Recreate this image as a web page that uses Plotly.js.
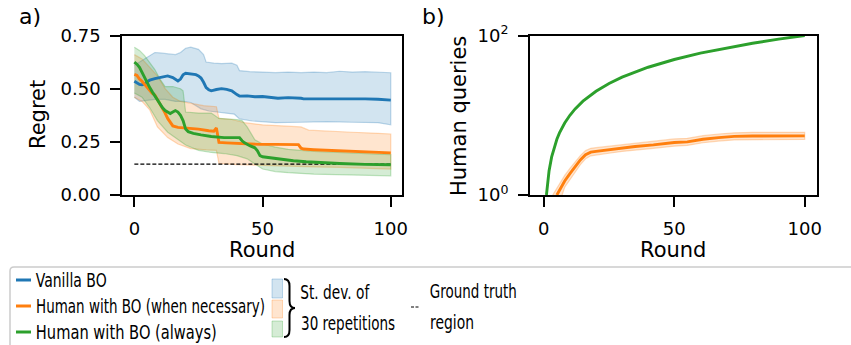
<!DOCTYPE html>
<html>
<head>
<meta charset="utf-8">
<script src="https://cdn.plot.ly/plotly-3.0.1.min.js"></script>
<style>html,body{margin:0;padding:0;background:#fff;}#chart{width:851px;height:345px;}</style>
</head>
<body>
<div id="chart"></div>
<script>
// ---------- Panel a) Regret ----------
const blueX = [0,1,2,3,4,5,6,8,10,12,13,15,16,17,18,19,20,22,24,25,26,27,28,29,30,32,34,36,38,40,41,44,47,50,53,56,60,64,65,66,70,75,80,85,90,95,100];
const blueMean = [0.535,0.528,0.52,0.518,0.522,0.533,0.54,0.547,0.552,0.558,0.56,0.552,0.542,0.536,0.545,0.565,0.572,0.57,0.566,0.56,0.55,0.53,0.505,0.495,0.49,0.496,0.5,0.497,0.49,0.472,0.465,0.466,0.462,0.463,0.458,0.455,0.458,0.458,0.455,0.452,0.452,0.453,0.454,0.452,0.452,0.45,0.446];
const blueUpX = [0,2,4,6,8,10,13,16,18,20,22,25,27,28,31,34,38,40,41,45,50,55,60,65,70,75,80,85,90,95,100];
const blueUp = [0.61,0.625,0.64,0.655,0.67,0.668,0.665,0.66,0.67,0.69,0.695,0.685,0.66,0.625,0.62,0.618,0.62,0.61,0.585,0.58,0.578,0.575,0.578,0.575,0.578,0.575,0.582,0.578,0.58,0.578,0.575];
const blueLoX = [0,2,5,8,12,16,19,22,26,29,34,39,41,46,55,65,75,85,95,100];
const blueLo = [0.46,0.44,0.445,0.45,0.45,0.44,0.44,0.435,0.405,0.395,0.387,0.38,0.358,0.348,0.34,0.342,0.345,0.342,0.34,0.33];

const orangeX = [0,1,2,3,4,5,6,7,8,9,10,11,12,13,14,15,17,20,25,29,31,32,33,36,40,45,49,55,60,64,65,66,70,75,80,85,90,95,100];
const orangeMean = [0.567,0.562,0.545,0.535,0.52,0.505,0.488,0.478,0.47,0.45,0.43,0.41,0.385,0.36,0.34,0.325,0.318,0.316,0.31,0.302,0.30,0.315,0.247,0.245,0.242,0.24,0.238,0.238,0.237,0.237,0.22,0.216,0.213,0.21,0.207,0.204,0.202,0.2,0.198];
const orangeUpX = [0,3,6,9,12,15,18,22,27,32,33,38,43,50,58,65,68,75,85,95,100];
const orangeUp = [0.66,0.64,0.6,0.56,0.5,0.46,0.44,0.43,0.42,0.415,0.36,0.355,0.34,0.33,0.325,0.32,0.305,0.3,0.295,0.29,0.287];
const orangeLoX = [0,3,6,9,13,17,22,28,32,33,40,50,60,70,80,90,100];
const orangeLo = [0.46,0.44,0.4,0.32,0.27,0.24,0.218,0.212,0.21,0.148,0.143,0.138,0.135,0.132,0.13,0.127,0.122];

const greenX = [0,1,2,3,4,5,6,7,8,9,10,11,12,13,14,15,16,17,18,19,20,21,23,26,30,35,41,42,43,45,47,48,49,50,53,57,62,67,72,80,90,100];
const greenMean = [0.625,0.615,0.6,0.575,0.55,0.525,0.505,0.485,0.465,0.45,0.425,0.41,0.397,0.39,0.383,0.39,0.397,0.39,0.375,0.35,0.31,0.298,0.29,0.283,0.275,0.27,0.27,0.255,0.245,0.232,0.222,0.208,0.185,0.18,0.175,0.168,0.161,0.156,0.152,0.148,0.144,0.142];
const greenUpX = [0,2,4,6,8,10,12,15,18,19,20,25,30,33,40,42,44,47,50,55,60,70,80,90,100];
const greenUp = [0.695,0.68,0.655,0.62,0.59,0.545,0.51,0.51,0.5,0.49,0.39,0.385,0.385,0.36,0.355,0.35,0.32,0.26,0.24,0.225,0.215,0.205,0.2,0.195,0.19];
const greenLoX = [0,3,6,9,13,17,20,25,30,35,40,44,47,50,55,60,70,80,90,100];
const greenLo = [0.48,0.46,0.41,0.35,0.295,0.26,0.235,0.21,0.2,0.195,0.185,0.17,0.145,0.122,0.11,0.105,0.098,0.095,0.092,0.09];

const truthX = [0,100];
const truthY = [0.145,0.145];

const regretTicks = [0,0.25,0.5,0.75];
const roundTicks = [0,50,100];

// ---------- Panel b) Human queries ----------
const alwaysX = [1,2,3,4,5,6,7,8,10,12,15,20,25,30,40,50,60,70,80,90,100];
const alwaysQ = [1,2,3,4,5,6,7,8,10,12,15,20,25,30,40,50,60,70,80,90,100];
const necX = [5,6,8,10,12,14,16,18,20,25,30,35,42,50,55,61,67,73,80,87,95,100];
const necQ = [1.0,1.15,1.5,1.85,2.25,2.75,3.2,3.45,3.52,3.7,3.9,4.06,4.25,4.56,4.64,5.0,5.25,5.43,5.5,5.52,5.52,5.52];
const necUpX = [3.4,5,6,8,10,12,14,16,18,20,25,30,35,42,50,55,61,67,73,80,87,95,100];
const necUp = [1.0,1.22,1.38,1.76,2.15,2.62,3.12,3.6,3.85,3.92,4.1,4.3,4.48,4.7,5.05,5.13,5.55,5.82,6.02,6.1,6.12,6.12,6.12];
const necLoX = [7.0,8,10,12,14,16,18,20,25,30,35,42,50,55,61,67,73,80,87,95,100];
const necLo = [1.0,1.25,1.58,1.93,2.4,2.84,3.1,3.17,3.34,3.52,3.67,3.85,4.1,4.18,4.52,4.75,4.9,4.97,4.98,4.98,4.98];
const queryTicks = [1,100];
const queryTickText = ['10<sup>0</sup>','10<sup>2</sup>'];

const seriesNames = ['Vanilla BO','Human with BO (when necessary)','Human with BO (always)'];
const bandLabel = ['St. dev. of', '30 repetitions'];
const truthLabel = ['Ground truth', 'region'];

const BLUE = '#1f77b4', ORANGE = '#ff7f0e', GREEN = '#2ca02c';
const BLUE_F = 'rgba(31,119,180,0.2)', ORANGE_F = 'rgba(255,127,14,0.2)', GREEN_F = 'rgba(44,160,44,0.2)';
const BLUE_E = 'rgba(31,119,180,0.28)', ORANGE_E = 'rgba(255,127,14,0.28)', GREEN_E = 'rgba(44,160,44,0.28)';

function band(ux, uy, lx, ly, fill, edge, xa, ya) {
  return {
    x: ux.concat(lx.slice().reverse()),
    y: uy.concat(ly.slice().reverse()),
    xaxis: xa, yaxis: ya, type: 'scatter', mode: 'lines',
    fill: 'toself', fillcolor: fill, line: {color: edge, width: 1.2},
    hoverinfo: 'skip', showlegend: false
  };
}
function line(x, y, color, xa, ya, name) {
  return {x: x, y: y, xaxis: xa, yaxis: ya, type: 'scatter', mode: 'lines',
    line: {color: color, width: 2.9}, name: name, showlegend: false};
}

const traces = [
  band(blueUpX, blueUp, blueLoX, blueLo, BLUE_F, BLUE_E, 'x', 'y'),
  band(orangeUpX, orangeUp, orangeLoX, orangeLo, ORANGE_F, ORANGE_E, 'x', 'y'),
  band(greenUpX, greenUp, greenLoX, greenLo, GREEN_F, GREEN_E, 'x', 'y'),
  {x: truthX, y: truthY, xaxis: 'x', yaxis: 'y', type: 'scatter', mode: 'lines',
   line: {color: '#000', width: 1.1, dash: '4px,2px'}, showlegend: false, name: 'Ground truth region'},
  line(blueX, blueMean, BLUE, 'x', 'y', seriesNames[0]),
  line(orangeX, orangeMean, ORANGE, 'x', 'y', seriesNames[1]),
  line(greenX, greenMean, GREEN, 'x', 'y', seriesNames[2]),
  band(necUpX, necUp, necLoX, necLo, ORANGE_F, ORANGE_E, 'x2', 'y2'),
  line(necX, necQ, ORANGE, 'x2', 'y2', seriesNames[1]),
  line(alwaysX, alwaysQ, GREEN, 'x2', 'y2', seriesNames[2])
];

const W = 851, H = 345;
const px = v => v / W;
const py = v => 1 - v / H;
const FONT = 'DejaVu Sans, Verdana, sans-serif';
const LSIZE = 19;

const axBase = {
  showgrid: false, zeroline: false, showline: true, mirror: true,
  linecolor: '#000', linewidth: 2, ticks: 'outside', ticklen: 10, tickwidth: 2,
  tickcolor: '#000', tickfont: {family: FONT, size: 18, color: '#000'},
  ticklabelstandoff: 6
};

const yDom = [py(195), py(35.5)];

function ann(text, x, y, size, opts) {
  return Object.assign({text: text, x: px(x), y: py(y), xref: 'paper', yref: 'paper',
    showarrow: false, xanchor: 'left', yanchor: 'middle', borderpad: 0,
    font: {family: FONT, size: size, color: '#000'}}, opts || {});
}
// legend text: left edge, centre y, squeezed width (the reference legend text is narrow)
const squeeze = {};
function lann(text, left, y, width) {
  squeeze[text] = width;
  return ann(text, left + width / 2, y, LSIZE, {xanchor: 'center'});
}

const bracePath = ['M', px(284), py(279), 'Q', px(289.5), py(279), px(289.5), py(286),
  'L', px(289.5), py(301), 'Q', px(289.5), py(308), px(295), py(308),
  'Q', px(289.5), py(308), px(289.5), py(315),
  'L', px(289.5), py(330), 'Q', px(289.5), py(337), px(284), py(337)].join(' ');

const legendBox = ['M', px(10), py(352), 'L', px(10), py(271),
  'Q', px(10), py(267), px(14), py(267), 'L', px(860), py(267)].join(' ');

const shapes = [
  {type: 'path', xref: 'paper', yref: 'paper', path: legendBox, line: {color: '#cccccc', width: 1.5}, fillcolor: 'rgba(0,0,0,0)'},
  {type: 'line', xref: 'paper', yref: 'paper', x0: px(16), x1: px(31), y0: py(280), y1: py(280), line: {color: BLUE, width: 3}},
  {type: 'line', xref: 'paper', yref: 'paper', x0: px(16), x1: px(31), y0: py(306), y1: py(306), line: {color: ORANGE, width: 3}},
  {type: 'line', xref: 'paper', yref: 'paper', x0: px(16), x1: px(31), y0: py(332), y1: py(332), line: {color: GREEN, width: 3}},
  {type: 'rect', xref: 'paper', yref: 'paper', x0: px(272), x1: px(282.5), y0: py(279), y1: py(298), fillcolor: BLUE_F, line: {color: BLUE_E, width: 1}},
  {type: 'rect', xref: 'paper', yref: 'paper', x0: px(272), x1: px(282.5), y0: py(300), y1: py(318), fillcolor: ORANGE_F, line: {color: ORANGE_E, width: 1}},
  {type: 'rect', xref: 'paper', yref: 'paper', x0: px(272), x1: px(282.5), y0: py(321), y1: py(337), fillcolor: GREEN_F, line: {color: GREEN_E, width: 1}},
  {type: 'path', xref: 'paper', yref: 'paper', path: bracePath, line: {color: '#000', width: 2}},
  {type: 'line', xref: 'paper', yref: 'paper', x0: px(411), x1: px(420), y0: py(307), y1: py(307), line: {color: '#000', width: 1, dash: '3px,1.5px'}}
];

const annotations = [
  ann('a)', 18, 16, 22),
  ann('b)', 421, 16, 22),
  ann('Regret', 38, 115, 21, {xanchor: 'center', textangle: -90}),
  ann('Human queries', 459, 116, 21, {xanchor: 'center', textangle: -90}),
  ann('Round', 262, 250, 21, {xanchor: 'center'}),
  ann('Round', 673, 250, 21, {xanchor: 'center'}),
  lann(seriesNames[0], 35.5, 280, 71),
  lann(seriesNames[1], 35.5, 306, 229),
  lann(seriesNames[2], 35.5, 332, 181),
  lann(bandLabel[0], 300.5, 292, 69),
  lann(bandLabel[1], 300.5, 322.5, 94),
  lann(truthLabel[0], 429.5, 291, 87),
  lann(truthLabel[1], 429.5, 321.5, 44)
];

const layout = {
  width: W, height: H,
  margin: {l: 0, r: 0, t: 0, b: 0, pad: 0},
  paper_bgcolor: '#fff', plot_bgcolor: '#fff',
  showlegend: false,
  xaxis: Object.assign({}, axBase, {domain: [px(122.3), px(402.3)], range: [-4.7, 104.5],
    tickvals: roundTicks, anchor: 'y'}),
  yaxis: Object.assign({}, axBase, {domain: yDom, range: [0, 0.75], tickvals: regretTicks,
    tickformat: '.2f', anchor: 'x'}),
  xaxis2: Object.assign({}, axBase, {domain: [px(530), px(816.7)], range: [-5.3, 104.6],
    tickvals: roundTicks, anchor: 'y2'}),
  yaxis2: Object.assign({}, axBase, {domain: yDom, type: 'log', range: [0, 2],
    tickvals: queryTicks, ticktext: queryTickText, anchor: 'x2'}),
  shapes: shapes,
  annotations: annotations
};

Plotly.newPlot('chart', traces, layout, {displayModeBar: false, staticPlot: true}).then(function (gd) {
  gd.querySelectorAll('.annotation-text').forEach(function (t) {
    const w = squeeze[t.textContent];
    if (w) {
      t.setAttribute('textLength', w);
      t.setAttribute('lengthAdjust', 'spacingAndGlyphs');
    }
  });
});
</script>
</body>
</html>
